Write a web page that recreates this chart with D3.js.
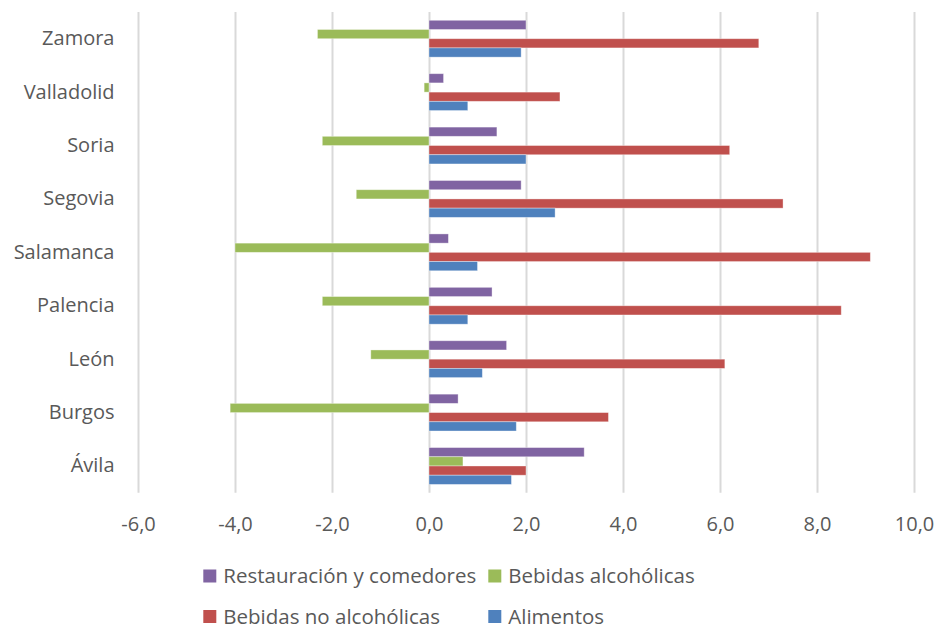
<!DOCTYPE html>
<html>
<head>
<meta charset="utf-8">
<script src="https://cdn.jsdelivr.net/npm/d3@7"></script>
<style>
  body { margin: 0; background: #fff; }
  svg text { font-family: "Open Sans", sans-serif; fill: #595959; }
</style>
</head>
<body>
<svg width="937" height="630"></svg>
<script>
// provinces, top to bottom
var provinces = ["Zamora", "Valladolid", "Soria", "Segovia", "Salamanca", "Palencia", "León", "Burgos", "Ávila"];

// series values (same order as provinces)
var restauracion = [2.0, 0.3, 1.4, 1.9, 0.4, 1.3, 1.6, 0.6, 3.2];
var bebidasAlcoholicas = [-2.3, -0.1, -2.2, -1.5, -4.0, -2.2, -1.2, -4.1, 0.7];
var bebidasNoAlcoholicas = [6.8, 2.7, 6.2, 7.3, 9.1, 8.5, 6.1, 3.7, 2.0];
var alimentos = [1.9, 0.8, 2.0, 2.6, 1.0, 0.8, 1.1, 1.8, 1.7];

var xTicks = [-6, -4, -2, 0, 2, 4, 6, 8, 10];

var series = [
    { name: "Restauración y comedores", values: restauracion, color: "#8064A2" },
    { name: "Bebidas alcohólicas", values: bebidasAlcoholicas, color: "#9BBB59" },
    { name: "Bebidas no alcohólicas", values: bebidasNoAlcoholicas, color: "#C0504D" },
    { name: "Alimentos", values: alimentos, color: "#4F81BD" }
];

var svg = d3.select("svg");
var plotLeft = 138, plotRight = 914, plotTop = 12, plotBottom = 492.7;

var x = d3.scaleLinear().domain([-6, 10]).range([plotLeft, plotRight]);
var y = d3.scaleBand().domain(provinces).range([plotTop, plotBottom]).padding(0);
var bw = y.bandwidth();
var yInner = d3.scaleBand()
    .domain(series.map(function (s) { return s.name; }))
    .range([bw * 0.155, bw * 0.845]);

var fmt = function (d) { return d.toFixed(1).replace(".", ","); };

// gridlines + tick labels
var xAxis = svg.append("g")
    .attr("transform", "translate(0," + plotBottom + ")")
    .call(d3.axisBottom(x).tickValues(xTicks).tickFormat(fmt)
        .tickSize(-(plotBottom - plotTop)).tickPadding(24.5));
xAxis.select(".domain").remove();
xAxis.selectAll("line").attr("stroke", "#d9d9d9").attr("stroke-width", 2);
xAxis.selectAll("text").style("font-size", "20px").attr("fill", "#595959")
    .style("font-family", "'Open Sans', sans-serif");

// bars
series.forEach(function (s) {
    svg.append("g").selectAll("rect")
        .data(s.values)
        .enter().append("rect")
        .attr("x", function (d) { return x(Math.min(0, d)); })
        .attr("width", function (d) { return Math.abs(x(d) - x(0)); })
        .attr("y", function (d, i) { return y(provinces[i]) + yInner(s.name); })
        .attr("height", yInner.bandwidth())
        .attr("fill", s.color)
        .attr("stroke", "rgba(255,255,255,0.45)")
        .attr("stroke-width", 0.8);
});

// category labels
var yAxis = svg.append("g")
    .attr("transform", "translate(" + plotLeft + ",0)")
    .call(d3.axisLeft(y).tickSize(0).tickPadding(23.5));
yAxis.select(".domain").remove();
yAxis.selectAll("text").style("font-size", "20px").attr("fill", "#595959")
    .style("font-family", "'Open Sans', sans-serif");

// legend
var legendPos = [[203.3, 569.5], [488.3, 569.5], [203.3, 610], [488.3, 610]];
var lg = svg.append("g");
series.forEach(function (s, i) {
    var p = legendPos[i];
    lg.append("rect").attr("x", p[0]).attr("y", p[1])
        .attr("width", 13).attr("height", 13).attr("fill", s.color);
    lg.append("text").attr("x", p[0] + 20).attr("y", p[1] + 13.5)
        .style("font-size", "20.5px").text(s.name);
});
</script>
</body>
</html>
